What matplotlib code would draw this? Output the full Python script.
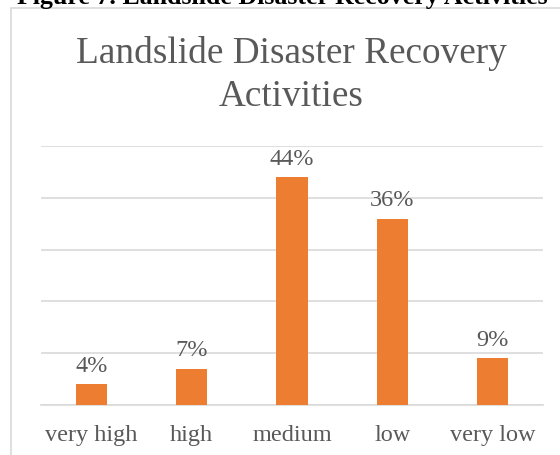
import matplotlib
matplotlib.use("Agg")
import matplotlib.pyplot as plt
from matplotlib.patches import Rectangle

categories = ["very high", "high", "medium", "low", "very low"]
values = [4, 7, 44, 36, 9]
labels = ["4%", "7%", "44%", "36%", "9%"]

W, H = 560, 456
fig = plt.figure(figsize=(W/100, H/100), dpi=100)
plt.rcParams['font.family'] = ['Liberation Serif', 'DejaVu Serif']

# chart frame
fig.patches.append(Rectangle((11/W, -0.1), 1.2, (H-9)/H + 0.1, transform=fig.transFigure,
                             fill=False, edgecolor='#d9d9d9', linewidth=1.2))

ax = fig.add_axes([41/W, 1-406/H, 502/W, (406-147)/H])
x = range(len(categories))
ax.bar(x, values, width=0.31, color='#ed7d31', zorder=3)
ax.set_ylim(0, 50)
ax.set_xlim(-0.5, 4.5)
ax.set_yticks(range(0, 51, 10))
ax.yaxis.grid(True, color='#d9d9d9', linewidth=1.2, zorder=0)
ax.set_yticklabels([])
ax.tick_params(axis='y', length=0)
ax.tick_params(axis='x', length=0, pad=14, labelsize=17.5, labelcolor='#595959')
ax.set_xticks(list(x))
ax.set_xticklabels(categories)
for s in ['top', 'right', 'left']:
    ax.spines[s].set_visible(False)
ax.spines['bottom'].set_color('#d9d9d9')
ax.spines['bottom'].set_linewidth(1.2)

for xi, v, lab in zip(x, values, labels):
    ax.annotate(lab, (xi, v), xytext=(0, 6), textcoords='offset points',
                ha='center', va='bottom', fontsize=17.5, color='#595959')

fig.text(291/W, 1-75/H, "Landslide Disaster Recovery\nActivities", ha='center', va='center',
         fontsize=26.8, color='#595959', linespacing=1.3)

fig.text(17/W, 1-4/H, "Figure 7. Landslide Disaster Recovery Activities", ha='left',
         va='baseline', fontsize=18.6, fontweight='bold', color='black')

fig.savefig("out.png", dpi=100)
